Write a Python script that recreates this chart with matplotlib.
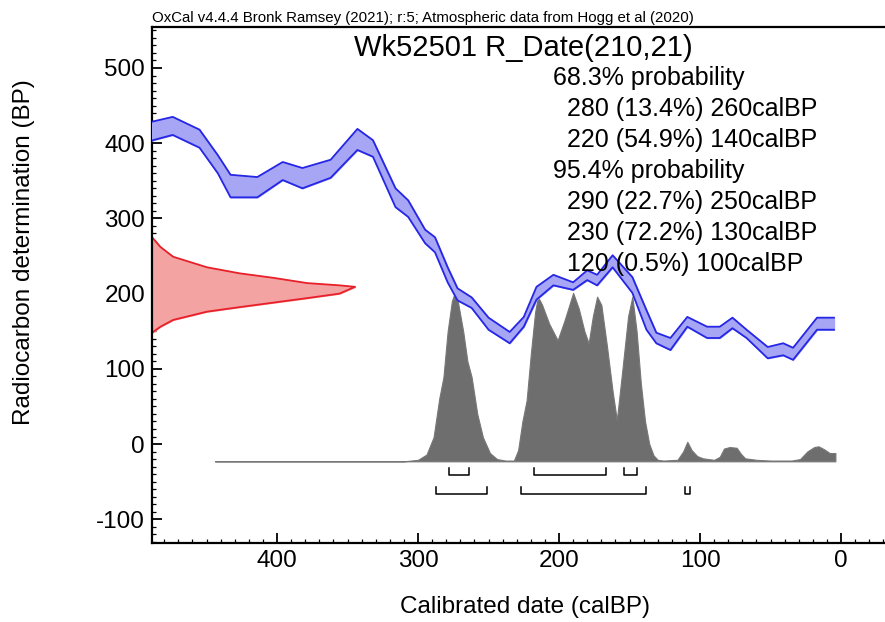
import numpy as np
import matplotlib.pyplot as plt

plt.rcParams['font.family'] = ['Liberation Sans', 'DejaVu Sans']
plt.rcParams['axes.unicode_minus'] = False

''' DATA read off the OxCal plot
'''
# calibration curve (IntCal band), cal BP vs upper/lower 14C age
curve_calbp = [490, 474, 455, 442, 433, 414, 396, 382, 362, 343, 332, 316, 307,
               295, 288, 279, 272, 262, 250, 235, 225, 216, 204, 190, 180, 173,
               162, 148, 138, 131, 121, 109, 95, 86, 77, 67, 52, 41, 34, 17, 5]
curve_upper = [428, 435, 418, 384, 358, 355, 375, 367, 378, 419, 404, 340, 324,
               285, 275, 235, 207, 195, 168, 149, 169, 209, 225, 215, 231, 225,
               251, 222, 178, 148, 141, 169, 156, 156, 168, 152, 129, 134, 128, 168, 168]
curve_lower = [403, 411, 394, 360, 328, 328, 351, 340, 354, 391, 382, 315, 302,
               267, 255, 215, 191, 181, 152, 134, 156, 192, 211, 205, 218, 211,
               235, 201, 152, 134, 125, 156, 141, 141, 154, 141, 114, 118, 112, 152, 152]

# measured radiocarbon date, drawn on the y axis (14C age, extent in cal yr)
rdate_bp = [275, 262, 249, 235, 227, 221, 214, 211, 209,
            200, 194, 188, 182, 176, 165, 156, 148]
rdate_ext = [0, 6, 15, 39, 62, 86, 110, 133, 144,
             133, 110, 86, 62, 39, 15, 6, 0]

# calibrated probability (top of the grey area, in y units)
prob_calbp = [444, 310, 300, 294, 289, 285, 282, 279, 276, 274, 272, 268, 265,
              262, 258, 254, 249, 244, 238, 232, 229, 226, 223, 220, 217, 215,
              212, 207, 201, 196, 190, 186, 182, 179, 176, 173, 170, 166, 162,
              159, 155, 151, 148, 145, 142, 139, 136, 133, 130, 126, 116, 112,
              109, 106, 102, 98, 90, 86, 83, 79, 74, 71, 68, 60, 50, 35, 29,
              24, 19, 16, 12, 8, 4]
prob_top = [-23, -23, -21, -14, 9, 60, 89, 150, 190, 201, 192, 150, 110,
            89, 40, 9, -12, -20, -22, -22, -8, 30, 58, 120, 175, 196,
            185, 160, 138, 165, 201, 180, 150, 134, 170, 196, 185, 130, 70,
            32, 100, 170, 196, 150, 81, 30, 0, -15, -21, -22, -21, -10,
            3, -8, -16, -19, -21, -17, -6, -4, -5, -13, -19, -21, -22, -22, -20,
            -10, -4, -3, -7, -12, -12]
prob_base = -23

# hpd ranges (cal BP)
range68 = [(278, 264), (218, 167), (154, 145)]
range95 = [(287, 251), (227, 138), (111, 107)]

title = 'Wk52501 R_Date(210,21)'
header = 'OxCal v4.4.4 Bronk Ramsey (2021); r:5; Atmospheric data from Hogg et al (2020)'
stats = ['68.3% probability',
         '  280 (13.4%) 260calBP',
         '  220 (54.9%) 140calBP',
         '95.4% probability',
         '  290 (22.7%) 250calBP',
         '  230 (72.2%) 130calBP',
         '  120 (0.5%) 100calBP']

''' FIGURE
'''
W, H = 885., 622.
fig = plt.figure(figsize=(8.85, 6.22), dpi=100)
ax = fig.add_axes([152/W, 1-543/H, 1-152/W, (543-27)/H])
xl = (488.7, -31.2)
ax.set_xlim(xl)
ax.set_ylim(-131.6, 554.5)

# grey calibrated distribution
ax.fill_between(prob_calbp, prob_base, prob_top, color='#6e6e6e', lw=0.8,
                edgecolor='#777777', zorder=1)

# red measurement on the y axis
ax.fill_betweenx(rdate_bp, xl[0], xl[0] - np.array(rdate_ext), color='#f4a3a3',
                 zorder=2)
ax.plot(xl[0] - np.array(rdate_ext), rdate_bp, color='#e8202a', lw=1.3, zorder=2)

# calibration curve band
ax.fill_between(curve_calbp, curve_lower, curve_upper, color='#a6a6f4', zorder=4)
ax.plot(curve_calbp, curve_upper, color='#2626e6', lw=1.3, zorder=4)
ax.plot(curve_calbp, curve_lower, color='#2626e6', lw=1.3, zorder=4)

# range brackets
for rng, yb in [(range68, -41), (range95, -66)]:
    for a, b in rng:
        ax.plot([a, a, b, b], [yb + 9, yb, yb, yb + 9], color='black', lw=1.1,
                zorder=3)

''' AXES PROPERTIES
'''
ax.spines['right'].set_visible(False)
for s in ['left', 'bottom', 'top']:
    ax.spines[s].set_linewidth(1.6)
ax.set_xticks([400, 300, 200, 100, 0])
ax.set_xticks(np.arange(480, -31, -10), minor=True)
ax.set_yticks([-100, 0, 100, 200, 300, 400, 500])
ax.set_yticks(np.arange(-130, 551, 10), minor=True)
ax.tick_params(which='major', direction='in', length=7, width=1.3,
               labelsize=17.5, pad=5)
ax.tick_params(which='minor', direction='in', length=3, width=0.9)
ax.tick_params(axis='x', which='major', pad=5)

fig.text(525/W, 1-607/H, 'Calibrated date (calBP)', fontsize=17.5,
         ha='center', va='center')
fig.text(24/W, 1-252/H, 'Radiocarbon determination (BP)', fontsize=17.5,
         ha='center', va='center', rotation=90)
fig.text(152/W, 1-18/H, header, fontsize=10.8, ha='left', va='center')
fig.text(523/W, 1-48/H, title, fontsize=21, ha='center', va='center')

for i, s in enumerate(stats):
    fig.text(553/W, 1-(78 + 31*i)/H, s, fontsize=18, ha='left', va='center',
             zorder=3)

fig.savefig('out.png', dpi=100)
